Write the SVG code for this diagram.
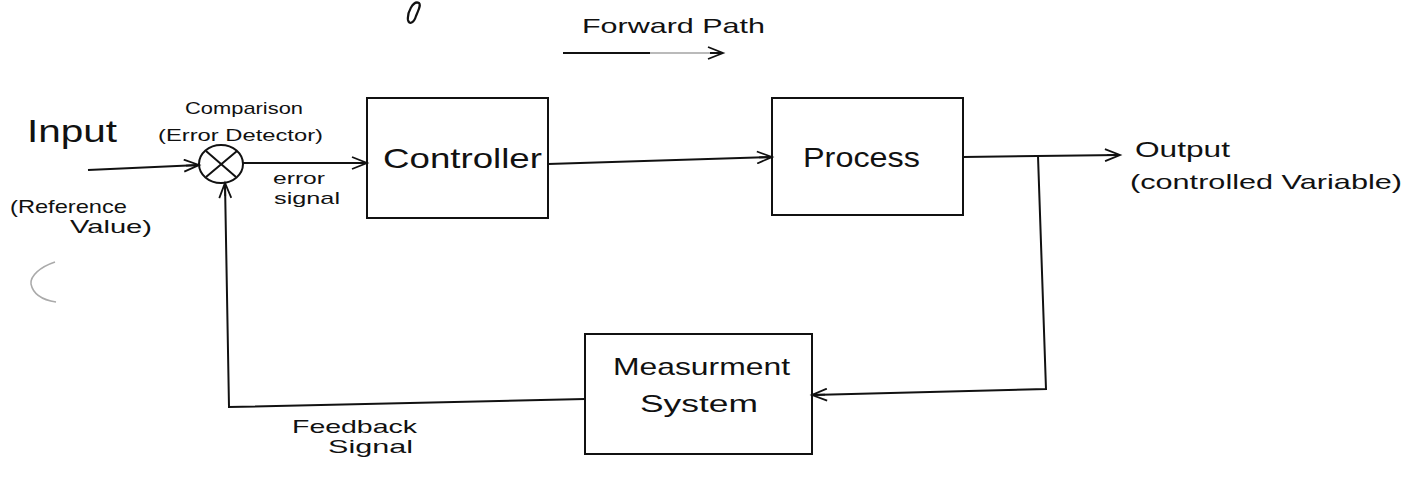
<svg xmlns="http://www.w3.org/2000/svg" width="1415" height="485" viewBox="0 0 1415 485">
<defs>
<style>
.box{fill:#fff;stroke:#111;stroke-width:2}
.ln{fill:none;stroke:#111;stroke-width:2}
.t{font-family:"Liberation Sans",Arial,sans-serif;fill:#111}
</style>
<marker id="ah" markerUnits="userSpaceOnUse" markerWidth="20" markerHeight="14" refX="16" refY="7" orient="auto">
<path d="M1,1 L16,7 L1,13 M3,7 L16,7" fill="none" stroke="#111" stroke-width="1.8"/>
</marker>
</defs>
<rect width="1415" height="485" fill="#fff"/>

<g id="marks">
<path d="M419,3 C413,0 407,13 408,20 C409,25 414,23 416,16 C419,9 421,5 419,3 Z" fill="none" stroke="#111" stroke-width="2.2"/>
<path d="M55,262 C40,267 30,276 31,284 C33,294 43,300 56,302" fill="none" stroke="#aaa" stroke-width="1.5"/>
</g>

<g id="forward-path">
<text class="t" x="582" y="33" font-size="21" textLength="183" lengthAdjust="spacingAndGlyphs">Forward  Path</text>
<path d="M563,53 L650,53" class="ln"/>
<path d="M650,53 L723,53" fill="none" stroke="#777" stroke-width="1.2" marker-end="url(#ah)"/>
</g>

<g id="input">
<text class="t" x="27" y="142" font-size="32" textLength="90" lengthAdjust="spacingAndGlyphs">Input</text>
<text class="t" x="10" y="213" font-size="19" textLength="117" lengthAdjust="spacingAndGlyphs">(Reference</text>
<text class="t" x="70" y="233" font-size="19" textLength="82" lengthAdjust="spacingAndGlyphs">Value)</text>
</g>

<g id="comparison">
<text class="t" x="185" y="114" font-size="17" textLength="118" lengthAdjust="spacingAndGlyphs">Comparison</text>
<text class="t" x="158" y="141" font-size="17" textLength="165" lengthAdjust="spacingAndGlyphs">(Error Detector)</text>
<ellipse cx="221" cy="164" rx="22" ry="19" class="ln"/>
<path d="M206,151 L236,177 M237,151 L206,177" class="ln"/>
</g>

<g id="controller">
<rect x="367" y="98" width="181" height="120" class="box"/>
<text class="t" x="383" y="168" font-size="28" textLength="159" lengthAdjust="spacingAndGlyphs">Controller</text>
</g>

<g id="process">
<rect x="772" y="98" width="191" height="117" class="box"/>
<text class="t" x="803" y="167" font-size="28" textLength="117" lengthAdjust="spacingAndGlyphs">Process</text>
</g>

<g id="output">
<text class="t" x="1135" y="157" font-size="22" textLength="95" lengthAdjust="spacingAndGlyphs">Output</text>
<text class="t" x="1130" y="189" font-size="21" textLength="272" lengthAdjust="spacingAndGlyphs">(controlled Variable)</text>
</g>

<g id="measurement">
<rect x="585" y="334" width="227" height="120" class="box"/>
<text class="t" x="613" y="375" font-size="24" textLength="177" lengthAdjust="spacingAndGlyphs">Measurment</text>
<text class="t" x="640" y="412" font-size="24" textLength="118" lengthAdjust="spacingAndGlyphs">System</text>
</g>

<g id="labels">
<text class="t" x="273" y="184" font-size="17" textLength="52" lengthAdjust="spacingAndGlyphs">error</text>
<text class="t" x="274" y="204" font-size="17" textLength="66" lengthAdjust="spacingAndGlyphs">signal</text>
<text class="t" x="292" y="433" font-size="19" textLength="125" lengthAdjust="spacingAndGlyphs">Feedback</text>
<text class="t" x="328" y="453" font-size="19" textLength="85" lengthAdjust="spacingAndGlyphs">Signal</text>
</g>

<g id="connectors">
<path d="M88,170 L199,165" class="ln" marker-end="url(#ah)"/>
<path d="M243,163 L367,163" class="ln" marker-end="url(#ah)"/>
<path d="M548,164 L772,157" class="ln" marker-end="url(#ah)"/>
<path d="M963,157 L1120,155" class="ln" marker-end="url(#ah)"/>
<path d="M1038,156 L1046,389 L812,395" class="ln" marker-end="url(#ah)"/>
<path d="M585,399 L229,407 L225,183" class="ln" marker-end="url(#ah)"/>
</g>
</svg>
